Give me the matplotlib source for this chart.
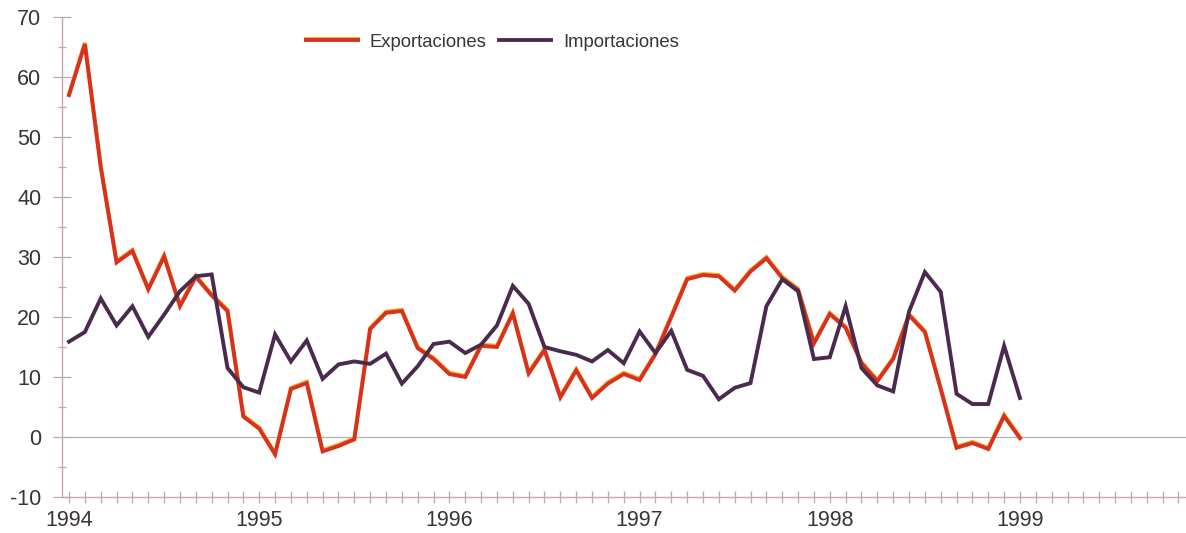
import matplotlib
matplotlib.use("Agg")
import matplotlib.pyplot as plt
import matplotlib.patheffects as pe
import numpy as np

# Monthly series, Jan 1994 .. Jan 1999 (year-on-year % change)
start_year = 1994
exportaciones = [57.0, 65.5, 45.0, 29.1, 31.0, 24.6, 30.1, 21.8, 26.7, 23.6, 21.0, 3.4,
                 1.4, -2.9, 8.0, 9.0, -2.4, -1.5, -0.4, 18.0, 20.7, 21.0, 14.8, 13.0,
                 10.5, 10.0, 15.2, 15.0, 20.6, 10.6, 14.5, 6.6, 11.1, 6.5, 8.9, 10.5,
                 9.5, 13.8, 20.0, 26.3, 27.0, 26.8, 24.4, 27.6, 29.8, 26.5, 24.5, 15.6,
                 20.5, 18.2, 12.3, 9.3, 13.0, 20.3, 17.5, 8.0, -1.8, -1.0, -2.0, 3.5,
                 -0.2]
importaciones = [15.9, 17.5, 23.1, 18.6, 21.8, 16.7, 20.4, 24.3, 26.8, 27.1, 11.5, 8.3,
                 7.4, 17.1, 12.6, 16.1, 9.7, 12.1, 12.6, 12.2, 13.9, 8.9, 11.8, 15.5,
                 15.9, 14.0, 15.4, 18.6, 25.2, 22.2, 15.0, 14.3, 13.7, 12.6, 14.5, 12.3,
                 17.6, 14.0, 17.7, 11.2, 10.2, 6.3, 8.2, 9.0, 21.8, 26.3, 24.3, 13.0,
                 13.3, 21.8, 11.5, 8.6, 7.6, 20.9, 27.5, 24.2, 7.2, 5.5, 5.5, 15.2,
                 6.5]
year_labels = ["1994", "1995", "1996", "1997", "1998", "1999"]
y_major = [-10, 0, 10, 20, 30, 40, 50, 60, 70]
n_month_ticks = 71  # Jan 1994 .. Nov 1999

plt.rcParams['font.family'] = ['Liberation Sans', 'DejaVu Sans']
plt.rcParams['axes.unicode_minus'] = False

fig = plt.figure(figsize=(11.86, 5.33), dpi=100)
ax = fig.add_axes([0.0523, 0.0675, 0.9477, 0.9005])

x = start_year + np.arange(len(exportaciones)) / 12.0

axis_col = '#c7a6ae'
text_col = '#3a3434'

ax.axhline(0, color='#b8b0b0', lw=0.9, zorder=1)

ax.plot(x, exportaciones, color='#d8321f', lw=2.8, solid_joinstyle='miter',
        label='Exportaciones', zorder=3,
        path_effects=[pe.SimpleLineShadow(offset=(0, 0.9), shadow_color='#f0b030', alpha=1.0),
                      pe.Normal()])
ax.plot(x, importaciones, color='#4a2b4e', lw=2.8, solid_joinstyle='miter',
        label='Importaciones', zorder=4)

ax.set_ylim(-10, 70)
ax.set_xlim(start_year - 0.0368, start_year + 5.873)

ax.set_yticks(y_major)
ax.set_yticks(np.arange(-10, 71, 5), minor=True)
ax.set_xticks([start_year + k for k in range(len(year_labels))])
ax.set_xticklabels(year_labels)
ax.set_xticks(start_year + np.arange(n_month_ticks) / 12.0, minor=True)

for s in ['top', 'right']:
    ax.spines[s].set_visible(False)
for s in ['left', 'bottom']:
    ax.spines[s].set_color(axis_col)
    ax.spines[s].set_linewidth(1.0)

ax.tick_params(axis='both', which='both', direction='inout',
               width=0.9, color=axis_col, labelsize=15.5, labelcolor=text_col)
ax.tick_params(axis='x', which='both', length=8.5)
ax.tick_params(axis='x', which='major', pad=5)
ax.tick_params(axis='y', which='major', length=13, pad=8.5)
ax.tick_params(axis='y', which='minor', length=6)

leg = ax.legend(loc='center', bbox_to_anchor=(0.383, 0.948), ncol=2, frameon=False,
                fontsize=13.3, handlelength=2.8, handletextpad=0.65,
                columnspacing=0.7, borderaxespad=0)
for t in leg.get_texts():
    t.set_color(text_col)

fig.savefig('out.png', dpi=100, facecolor='white')
